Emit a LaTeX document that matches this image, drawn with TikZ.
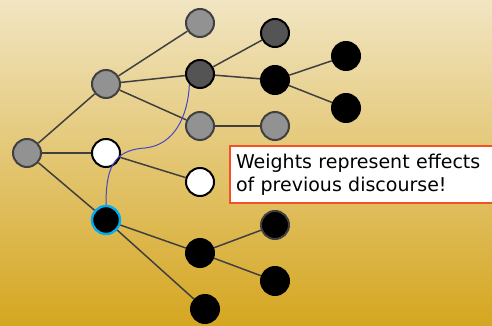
\documentclass[tikz,border=0pt]{standalone}
\usepackage{fontspec}
\setmainfont{DejaVu Sans}
\usepackage{tikz}
\definecolor{bgtop}{RGB}{241,229,194}
\definecolor{bgbot}{RGB}{213,166,32}
\definecolor{midgray}{RGB}{146,146,146}
\definecolor{darkgray}{RGB}{84,84,84}
\definecolor{edgegray}{RGB}{64,64,64}
\definecolor{notered}{RGB}{245,80,40}
\definecolor{pathblue}{RGB}{70,70,200}

\begin{document}
\begin{tikzpicture}[x=1pt,y=-1pt]
            \tikzstyle{every node}=[font=\normalsize]
            \tikzstyle{vert}=[circle, minimum size=28pt, inner sep=0pt, line width=2pt]
            \tikzstyle{grayv}=[vert, fill=midgray, draw=edgegray]
            \tikzstyle{darkv}=[vert, fill=darkgray, draw=black]
            \tikzstyle{whitev}=[vert, fill=white, draw=black]
            \tikzstyle{blackv}=[vert, fill=black, draw=black]
            \tikzstyle{edge}=[draw=edgegray, line width=1.5pt]
            \useasboundingbox (0,0) rectangle (492,326);
            \shade[top color=bgtop, bottom color=bgbot] (0,0) rectangle (492,326);
            % tree
            \node[grayv] (root) at (27,153) {};
            \node[grayv] (a) at (106,84) {};
            \node[whitev] (b) at (106,153) {};
            \node[blackv, draw=cyan, line width=2.4pt] (c) at (106,220) {};
            \node[grayv] (a1) at (200,23) {};
            \node[darkv] (a2) at (200,74) {};
            \node[grayv] (a3) at (200,126) {};
            \node[whitev] (b1) at (200,182) {};
            \node[blackv] (c1) at (200,253) {};
            \node[blackv] (c2) at (205,309) {};
            \node[darkv] (a21) at (275,33) {};
            \node[blackv] (a22) at (275,80) {};
            \node[grayv] (a31) at (275,126) {};
            \node[blackv, draw=edgegray] (c11) at (275,225) {};
            \node[blackv] (c12) at (275,281) {};
            \node[blackv] (a221) at (346,56) {};
            \node[blackv] (a222) at (346,108) {};
            \draw[edge] (root) -- (a);
            \draw[edge] (root) -- (b);
            \draw[edge] (root) -- (c);
            \draw[edge] (a) -- (a1);
            \draw[edge] (a) -- (a2);
            \draw[edge] (a) -- (a3);
            \draw[edge] (b) -- (b1);
            \draw[edge] (c) -- (c1);
            \draw[edge] (c) -- (c2);
            \draw[edge] (a2) -- (a21);
            \draw[edge] (a2) -- (a22);
            \draw[edge] (a3) -- (a31);
            \draw[edge] (c1) -- (c11);
            \draw[edge] (c1) -- (c12);
            \draw[edge] (a22) -- (a221);
            \draw[edge] (a22) -- (a222);
            % path of attention
            \draw[pathblue, line width=1pt] (c.north) .. controls (106,170) and (112,150) .. (145,148) .. controls (175,145) and (188,115) .. (a2.south west);
            % note
            \node[draw=notered, fill=white, line width=2pt, anchor=north west, align=left, text width=262pt, inner xsep=6pt, inner ysep=8pt, font=\fontsize{19}{23}\selectfont] (note) at (229,145) {Weights represent effects\\of previous discourse!};
\end{tikzpicture}
\end{document}
